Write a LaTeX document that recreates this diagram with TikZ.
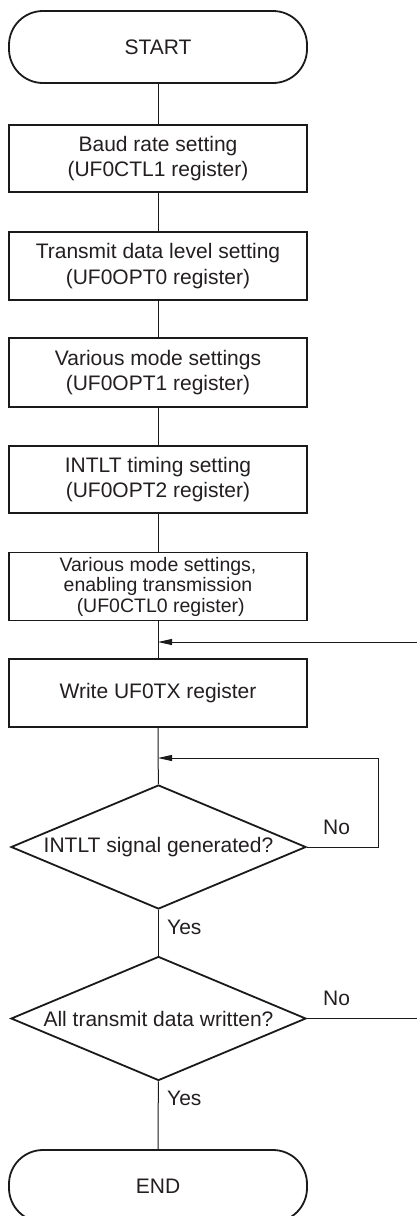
\documentclass[tikz,border=0pt]{standalone}
\usepackage{fontspec}
\setmainfont{Liberation Sans}
\usepackage{tikz}
\usetikzlibrary{arrows.meta,positioning,shapes.geometric}
\definecolor{txtCol}{HTML}{231F20}
\definecolor{lineCol}{HTML}{1A1A1A}
\tikzset{
  term/.style={draw=lineCol, line width=1.8pt, rounded corners=34pt, align=center, text=txtCol,
        font=\fontsize{21}{25}\selectfont, minimum width=298pt, minimum height=72pt},
  proc/.style={draw=lineCol, line width=1.8pt, align=center, text=txtCol, inner sep=0pt,
        font=\fontsize{21}{25.5}\selectfont, minimum width=298pt, minimum height=#1},
  dec/.style={draw=lineCol, line width=1.8pt, diamond, aspect=2.38, align=center, text=txtCol,
        inner sep=0pt, font=\fontsize{21}{25}\selectfont, minimum width=295pt, minimum height=124pt},
  flow/.style={draw=lineCol, line width=1pt},
  flowa/.style={flow, -{Triangle[length=14pt, width=6pt]}},
  elab/.style={text=txtCol, font=\fontsize{21}{25}\selectfont, inner sep=0pt, anchor=west},
}

\begin{document}
\begin{tikzpicture}[x=1pt, y=-1pt]
  \useasboundingbox (0,0) rectangle (417,1216);
  \clip (0,0) rectangle (417,1216);
  % --- main sequence ---
  \node[term] (start) at (158,47) {START};
  \node[proc=67pt] (baud) at (158,158.5) {Baud rate setting\\(UF0CTL1 register)};
  \node[proc=68pt] (lvl) at (158,266) {Transmit data level setting\\(UF0OPT0 register)};
  \node[proc=69pt] (opt1) at (158,372.5) {Various mode settings\\(UF0OPT1 register)};
  \node[proc=67pt] (opt2) at (158,479.5) {INTLT timing setting\\(UF0OPT2 register)};
  \node[proc=68pt, font=\fontsize{19.5}{20.5}\selectfont] (ctl0) at (158,586.5)
       {Various mode settings,\\enabling transmission\\\hspace*{0.28em}(UF0CTL0 register)};
  \node[proc=68pt] (wtx) at (158,693) {Write UF0TX register};
  \node[dec] (intlt) at (158.5,847) {INTLT signal generated?};
  \node[dec] (alldat) at (158.5,1018.5) {All transmit data written?};
  \node[term] (end) at (158,1186) {END};
  % --- junctions ---
  \coordinate (j1) at (158,642);
  \coordinate (j2) at (158,758);
  \coordinate (r1) at (378,847);
  \coordinate (r2) at (421,1018.5);
  % --- labels ---
  \node[elab] (no1) at (323,827) {No};
  \node[elab] (yes1) at (167,927) {Yes};
  \node[elab] (no2) at (323,998) {No};
  \node[elab] (yes2) at (167,1098) {Yes};
  % edges
  \draw[flow] (start)--(baud);
  \draw[flow] (baud)--(lvl);
  \draw[flow] (lvl)--(opt1);
  \draw[flow] (opt1)--(opt2);
  \draw[flow] (opt2)--(ctl0);
  \draw[flow] (ctl0)--(wtx);
  \draw[flow] (wtx)--(intlt);
  \draw[flow] (intlt)--(alldat);
  \draw[flow] (alldat)--(end);
  % loops back
  \draw[flowa] (intlt.east) -- (r1) -- (r1|-j2) -- (j2);
  \draw[flowa] (alldat.east) -- (r2) -- (r2|-j1) -- (j1);
\end{tikzpicture}
\end{document}
